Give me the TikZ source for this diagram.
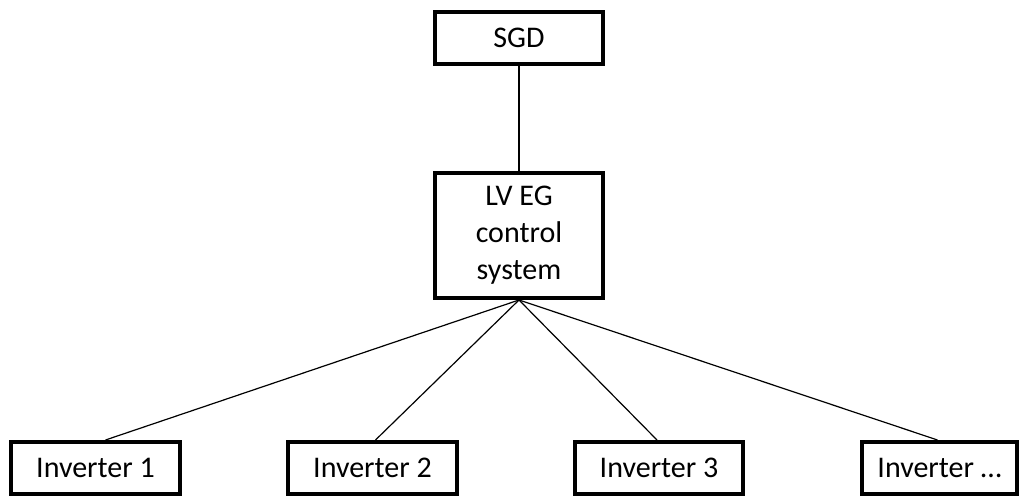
\documentclass[tikz,border=0pt]{standalone}
\usepackage{fontspec}
\setmainfont{Carlito}
\begin{document}
\begin{tikzpicture}[x=0.5pt,y=-0.5pt,
  box/.style={draw,line width=2pt,align=center,inner sep=0pt,
    font=\fontsize{15}{18.5}\selectfont,minimum height=26pt},
  link/.style={line width=0.6pt}]
\useasboundingbox(0,0) rectangle (1019,496);
\node[box,minimum width=84pt](sgd) at (519,38){SGD};
\node[box,minimum width=84pt,minimum height=62.5pt](ctrl) at (519,235.5){LV EG\\control\\system};
\node[box,minimum width=84.5pt](inv1) at (95.5,468){Inverter 1};
\node[box,minimum width=84.5pt](inv2) at (372.5,468){Inverter 2};
\node[box,minimum width=84pt](inv3) at (659,468){Inverter 3};
\node[box,minimum width=77.5pt](inv4) at (939.5,468){Inverter \dots};
\draw[link](sgd)--(ctrl);
\draw[link](ctrl.south)--([xshift=5pt]inv1.north);
\draw[link](ctrl.south)--([xshift=1.5pt]inv2.north);
\draw[link](ctrl.south)--([xshift=-1pt]inv3.north);
\draw[link](ctrl.south)--([xshift=-1pt]inv4.north);
\end{tikzpicture}
\end{document}
